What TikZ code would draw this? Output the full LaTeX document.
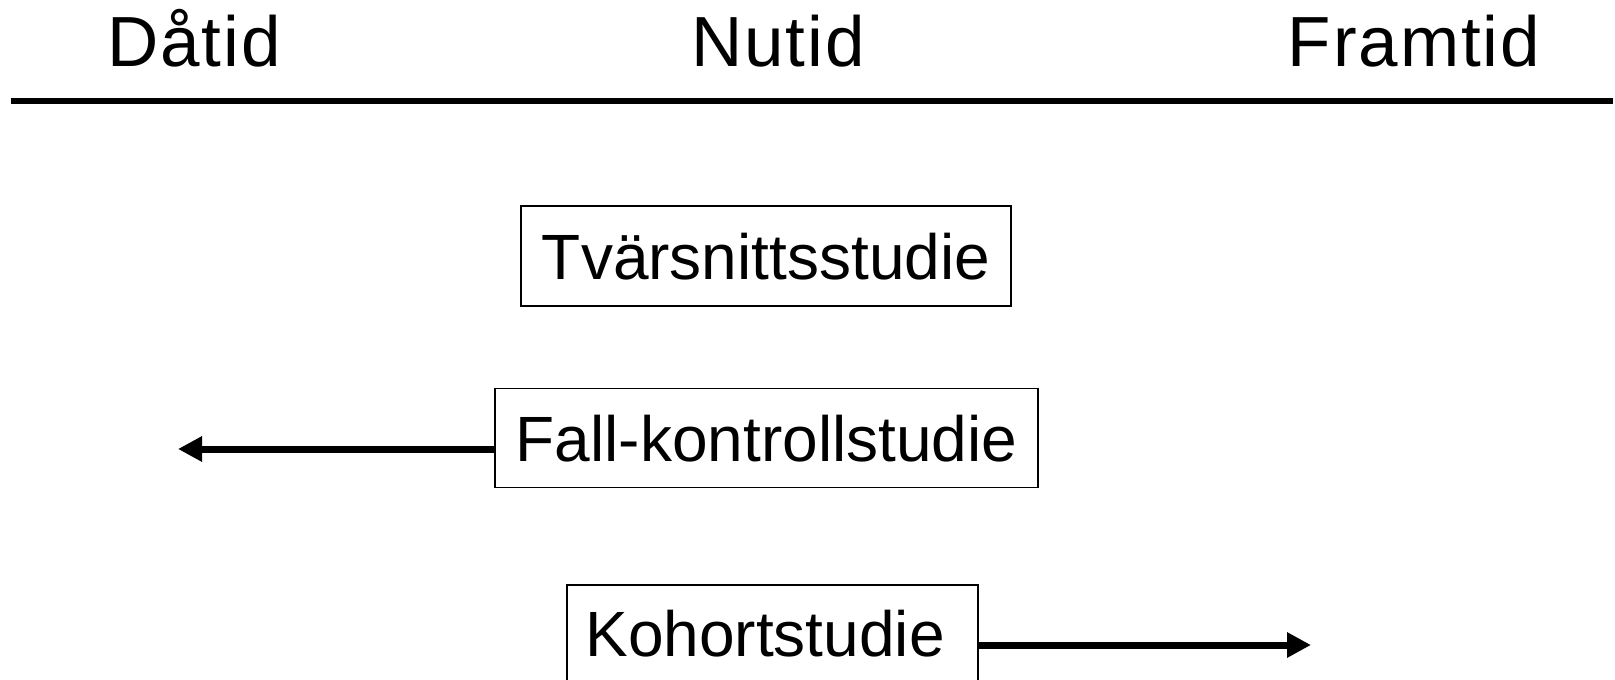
\documentclass[tikz,border=0pt]{standalone}
\usepackage{fontspec}
\setmainfont{Liberation Sans}
\newfontfamily\hdfont[LetterSpace=2.8]{Liberation Sans}
\usetikzlibrary{arrows.meta}
\tikzset{
  hdtext/.style={anchor=base, inner sep=0pt, font=\hdfont\fontsize{71}{80}\selectfont},
  studybox/.style={draw, line width=1.5pt, inner sep=0pt, text height=46pt, text depth=0pt,
    font=\fontsize{64}{72}\selectfont},
  bigarrow/.style={line width=7pt, -{Triangle[length=24pt, width=24pt]}},
}
\begin{document}
\begin{tikzpicture}[x=1pt, y=-1pt]
\useasboundingbox (0,0) rectangle (1615,680);
% headers
\node[hdtext] (past) at (194,66) {Dåtid};
\node[hdtext] (now) at (778,66) {Nutid};
\node[hdtext] (future) at (1414,66) {Framtid};
% time line
\coordinate (tl1) at (11,101);
\coordinate (tl2) at (1613,101);
\draw[line width=6.5pt] (tl1) -- (tl2);
% boxes
\node[studybox, minimum width=490pt, minimum height=100pt] (tvs) at (766,256) {Tvärsnittsstudie};
\node[studybox, minimum width=543pt, minimum height=99pt] (fall) at (766.5,438) {Fall-kontrollstudie};
\node[studybox, minimum width=411pt, minimum height=97pt] (koh) at (772.5,633.5) {Kohortstudie\hspace*{15pt}};
% arrows
\coordinate (fl) at (178,449);
\coordinate (kr) at (1311,645);
\draw[bigarrow] (fall.west |- fl) -- (fl);
\draw[bigarrow] (koh.east |- kr) -- (kr);
\end{tikzpicture}
\end{document}
